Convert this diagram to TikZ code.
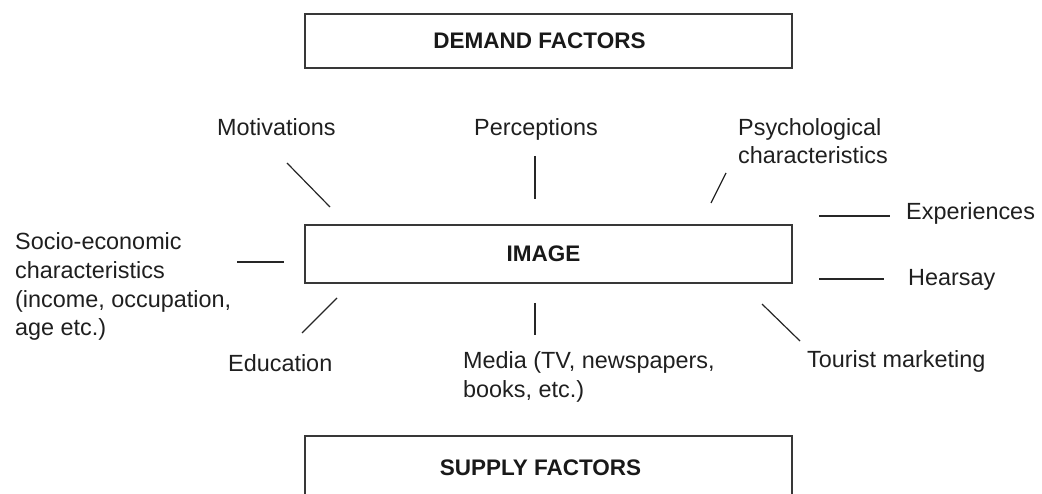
\documentclass[tikz,border=0pt]{standalone}
\usepackage{fontspec}
\setmainfont{Liberation Sans}
\begin{document}
\begin{tikzpicture}[x=1pt,y=-1pt,
  factorbox/.style={draw=black!78, line width=1.6pt, inner sep=0pt,
    font=\bfseries\fontsize{22.5}{27}\selectfont, text=black!90},
  lbl/.style={font=\fontsize{23.4}{28.8}\selectfont, inner sep=0pt,
    anchor=base west, align=left, text=black!88},
  conn/.style={line width=1.2pt, draw=black!85}]
\useasboundingbox (0,0) rectangle (1042,494);
\clip (0,0) rectangle (1042,494);

% boxes
\node[factorbox, minimum width=487pt, minimum height=54pt] (demand) at (548.5,41) {\hspace*{-18pt}DEMAND FACTORS};
\node[factorbox, minimum width=487pt, minimum height=58pt] (image) at (548.5,254) {\hspace*{-10pt}IMAGE};
\node[factorbox, minimum width=487pt, minimum height=63pt] (supply) at (548.5,467.5) {\hspace*{-16pt}SUPPLY FACTORS};

% labels (anchor base = baseline of the last line)
\node[lbl] (motiv) at (217,136) {Motivations};
\node[lbl] (percep) at (474,136) {Perceptions};
\node[lbl] (psych) at (738,164) {Psychological\\characteristics};
\node[lbl] (exper) at (906,220) {Experiences};
\node[lbl] (hears) at (908,286) {Hearsay};
\node[lbl] (socio) at (15,336) {Socio-economic\\characteristics\\(income, occupation,\\age etc.)};
\node[lbl] (educ) at (228,372) {Education};
\node[lbl] (media) at (463,397) {Media (TV, newspapers,\\books, etc.)};
\node[lbl] (tour) at (807,367) {Tourist marketing};

% connector end points
\coordinate (m1) at (287,163); \coordinate (m2) at (330,207);
\coordinate (p1) at (535,156); \coordinate (p2) at (535,199);
\coordinate (s1) at (726,173); \coordinate (s2) at (711,203);
\coordinate (e1) at (819,216); \coordinate (e2) at (890,216);
\coordinate (h1) at (819,279); \coordinate (h2) at (884,279);
\coordinate (t1) at (762,304); \coordinate (t2) at (800,341);
\coordinate (so1) at (237,262); \coordinate (so2) at (284,262);
\coordinate (ed1) at (337,298); \coordinate (ed2) at (302,333);
\coordinate (me1) at (535,303); \coordinate (me2) at (535,335);

\draw[conn] (m1) -- (m2);
\draw[conn] (p1) -- (p2);
\draw[conn] (s1) -- (s2);
\draw[conn] (e1) -- (e2);
\draw[conn] (h1) -- (h2);
\draw[conn] (t1) -- (t2);
\draw[conn] (so1) -- (so2);
\draw[conn] (ed1) -- (ed2);
\draw[conn] (me1) -- (me2);
\end{tikzpicture}
\end{document}
